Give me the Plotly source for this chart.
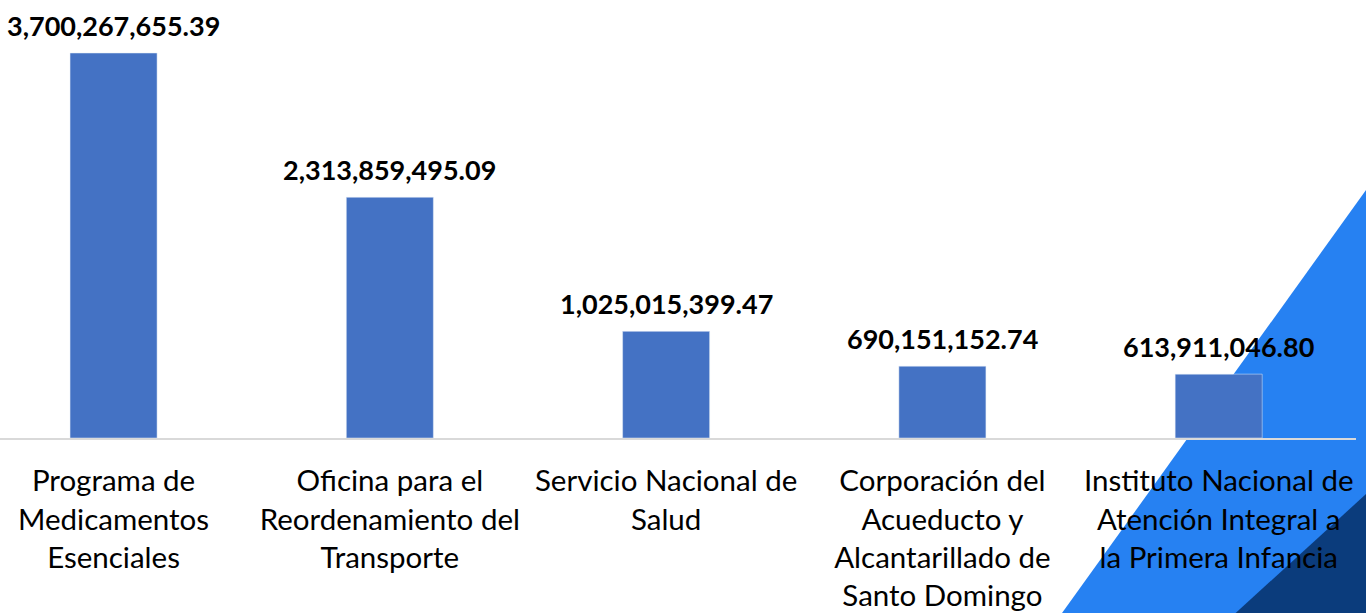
import plotly.graph_objects as go

# data
categories = [
    "Programa de<br>Medicamentos<br>Esenciales",
    "Oficina para el<br>Reordenamiento del<br>Transporte",
    "Servicio Nacional de<br>Salud",
    "Corporación del<br>Acueducto y<br>Alcantarillado de<br>Santo Domingo",
    "Instituto Nacional de<br>Atención Integral a<br>la Primera Infancia",
]
values = [3700267655.39, 2313859495.09, 1025015399.47, 690151152.74, 613911046.80]
value_labels = ["3,700,267,655.39", "2,313,859,495.09", "1,025,015,399.47", "690,151,152.74", "613,911,046.80"]

W, H = 1366, 613
L, R, T, B = 0, 10, 0, 175
pw, ph = W - L - R, H - T - B


def px(x, y):
    # pixel position -> paper coords of the plot area
    return (x - L) / pw, (H - B - y) / ph


def poly(points):
    parts = []
    for i, (x, y) in enumerate(points):
        a, b = px(x, y)
        parts.append(("M" if i == 0 else "L") + " %.4f %.4f" % (a, b))
    return " ".join(parts) + " Z"


fig = go.Figure()
fig.add_trace(go.Bar(x=list(range(len(values))), y=values, marker_color="#4472C4",
                     width=0.315, hoverinfo="skip"))

# decorative background triangles
fig.add_shape(type="path", xref="paper", yref="paper", layer="below", line_width=0,
              fillcolor="#2681F2", path=poly([(1366, 190), (1375, 190), (1375, 620), (1057, 620)]))
fig.add_shape(type="path", xref="paper", yref="paper", layer="below", line_width=0,
              fillcolor="#0B3C7C", path=poly([(1366, 494), (1375, 494), (1375, 620), (1228, 620)]))

for i, (v, lab) in enumerate(zip(values, value_labels)):
    fig.add_annotation(x=i, y=v, text="<b>" + lab + "</b>", showarrow=False,
                       yanchor="bottom", yshift=9,
                       font=dict(family="Lato", size=27, color="#000000"))

fig.update_layout(
    width=W, height=H,
    margin=dict(l=L, r=R, t=T, b=B),
    paper_bgcolor="white", plot_bgcolor="rgba(0,0,0,0)",
    showlegend=False,
    font=dict(family="Lato", color="#000000"),
)
fig.update_xaxes(tickmode="array", tickvals=list(range(len(values))), ticktext=categories,
                 range=[-0.411, 4.497], showline=True, linecolor="#D9D9D9", linewidth=2,
                 showgrid=False, zeroline=False, ticks="", tickangle=0,
                 tickfont=dict(family="Lato", size=29.5, color="#000000"), ticklabelstandoff=16)
fig.update_yaxes(range=[0, 4.21e9], visible=False, showgrid=False, zeroline=False)

fig.write_html("out.html", config={"displayModeBar": False},
               post_script="document.body.style.margin='0';")
